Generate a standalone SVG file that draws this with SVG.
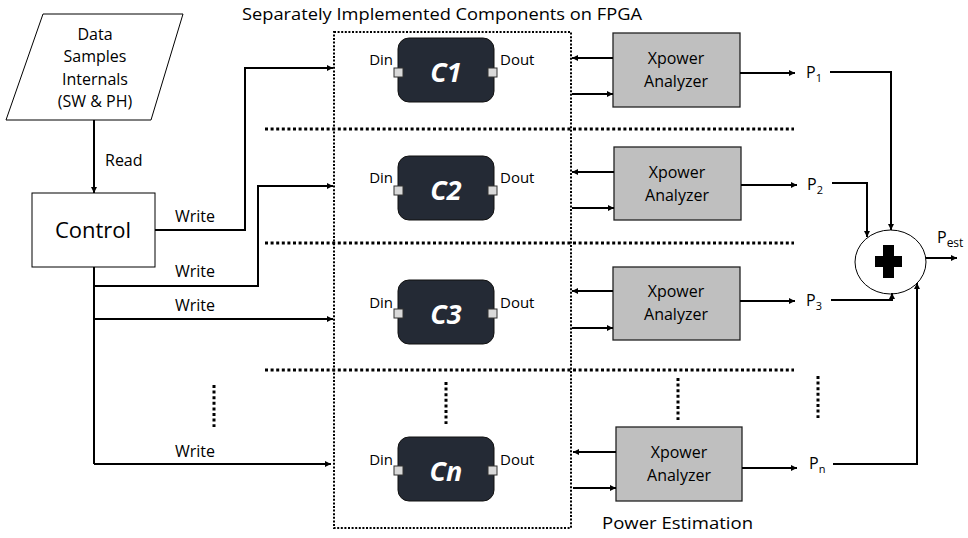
<svg xmlns="http://www.w3.org/2000/svg" width="968" height="538" viewBox="0 0 968 538">
<defs>
<marker id="ah" viewBox="0 0 10 10" refX="10" refY="5" markerWidth="6" markerHeight="6" markerUnits="userSpaceOnUse" orient="auto"><path d="M0 0 L10 5 L0 10 z" fill="#000"/></marker>
<style>
text{font-family:"Open Sans","Noto Sans","Liberation Sans",sans-serif;fill:#000}
.lbl{font-size:16px}
.mid{text-anchor:middle}
.c{fill:#242a35;stroke:#111;stroke-width:1}
.port{fill:#d9d9d9;stroke:#333;stroke-width:1}
.cl{font-size:27px;font-weight:bold;font-style:italic;fill:#fff;text-anchor:middle}
.d{font-size:15px}
.din{text-anchor:end}
.xa{fill:#bfbfbf;stroke:#222;stroke-width:1.3}
.ln{fill:none;stroke:#000;stroke-width:2}
.ar{fill:none;stroke:#000;stroke-width:2;marker-end:url(#ah)}
.sep{fill:none;stroke:#000;stroke-width:3;stroke-dasharray:3 2.6}
.box{fill:none;stroke:#000;stroke-width:2;stroke-dasharray:2 1.6}
</style>
</defs>
<rect width="968" height="538" fill="#fff"/>

<text x="242" y="20" textLength="400" lengthAdjust="spacingAndGlyphs" font-size="17">Separately Implemented Components on FPGA</text>
<text x="602" y="529" textLength="151" lengthAdjust="spacingAndGlyphs" font-size="17">Power Estimation</text>

<rect class="box" x="334" y="32" width="237" height="496"/>
<g id="separators">
<line class="sep" x1="265" y1="129" x2="794" y2="129"/>
<line class="sep" x1="265" y1="243" x2="794" y2="243"/>
<line class="sep" x1="265" y1="370" x2="794" y2="370"/>
<line class="sep" x1="214" y1="385" x2="214" y2="427"/>
<line class="sep" x1="446" y1="382" x2="446" y2="424"/>
<line class="sep" x1="678" y1="378" x2="678" y2="420"/>
<line class="sep" x1="818" y1="376" x2="818" y2="418"/>
</g>

<g id="data">
<polygon points="43,14 183,14 151,120 6,120" fill="#fff" stroke="#000" stroke-width="1"/>
<text class="lbl mid" x="95" y="40">Data</text>
<text class="lbl mid" x="95" y="62">Samples</text>
<text class="lbl mid" x="95" y="85">Internals</text>
<text class="lbl mid" x="95" y="107">(SW &amp; PH)</text>
</g>

<g id="control">
<rect x="32" y="193" width="123" height="74" fill="#fff" stroke="#000" stroke-width="1"/>
<text class="mid" x="93" y="238" font-size="22">Control</text>
</g>

<g id="c1">
<rect class="c" x="398" y="38" width="96" height="64" rx="11"/>
<rect class="port" x="394" y="68" width="9" height="9"/>
<rect class="port" x="488" y="68" width="9" height="9"/>
<text class="cl" x="446" y="82">C1</text>
<text class="d din" x="393" y="65">Din</text>
<text class="d" x="500" y="65">Dout</text>
</g>
<g id="c2">
<rect class="c" x="398" y="156" width="96" height="64" rx="11"/>
<rect class="port" x="394" y="186" width="9" height="9"/>
<rect class="port" x="488" y="186" width="9" height="9"/>
<text class="cl" x="446" y="200">C2</text>
<text class="d din" x="393" y="183">Din</text>
<text class="d" x="500" y="183">Dout</text>
</g>
<g id="c3">
<rect class="c" x="398" y="280" width="96" height="64" rx="11"/>
<rect class="port" x="394" y="309" width="9" height="9"/>
<rect class="port" x="488" y="309" width="9" height="9"/>
<text class="cl" x="446" y="324">C3</text>
<text class="d din" x="393" y="308">Din</text>
<text class="d" x="500" y="308">Dout</text>
</g>
<g id="cn">
<rect class="c" x="398" y="437" width="96" height="64" rx="11"/>
<rect class="port" x="394" y="466" width="9" height="9"/>
<rect class="port" x="488" y="466" width="9" height="9"/>
<text class="cl" x="446" y="481">Cn</text>
<text class="d din" x="393" y="465">Din</text>
<text class="d" x="500" y="465">Dout</text>
</g>

<g id="xa1">
<rect class="xa" x="613" y="33" width="127" height="74"/>
<text class="lbl mid" x="676" y="64">Xpower</text>
<text class="lbl mid" x="676" y="87">Analyzer</text>
</g>
<g id="xa2">
<rect class="xa" x="614" y="147" width="127" height="73"/>
<text class="lbl mid" x="677" y="178">Xpower</text>
<text class="lbl mid" x="677" y="201">Analyzer</text>
</g>
<g id="xa3">
<rect class="xa" x="613" y="267" width="127" height="73"/>
<text class="lbl mid" x="676" y="297">Xpower</text>
<text class="lbl mid" x="676" y="320">Analyzer</text>
</g>
<g id="xan">
<rect class="xa" x="616" y="427" width="126" height="74"/>
<text class="lbl mid" x="679" y="458">Xpower</text>
<text class="lbl mid" x="679" y="481">Analyzer</text>
</g>

<g id="p-labels">
<text class="lbl" x="806" y="78">P<tspan font-size="11" dy="4">1</tspan></text>
<text class="lbl" x="807" y="190">P<tspan font-size="11" dy="4">2</tspan></text>
<text class="lbl" x="806" y="306">P<tspan font-size="11" dy="4">3</tspan></text>
<text class="lbl" x="809" y="469">P<tspan font-size="11" dy="4">n</tspan></text>
<text class="lbl" x="937" y="243">P<tspan font-size="12" dy="4">est</tspan></text>
</g>

<g id="sum">
<ellipse cx="890.5" cy="262" rx="35.5" ry="32" fill="#fff" stroke="#000" stroke-width="1"/>
<path d="M883 245 H894 V256 H902 V267 H894 V278 H883 V267 H875 V256 H883 Z" fill="#000"/>
</g>

<g id="connectors">
<line class="ar" x1="94" y1="120" x2="94" y2="193"/>
<text class="lbl" x="105" y="166">Read</text>
<path class="ar" d="M155 230 H245 V68 H333"/>
<path class="ln" d="M94 267 V464"/>
<path class="ar" d="M94 286 H258 V186 H333"/>
<path class="ar" d="M94 319 H333"/>
<path class="ar" d="M94 464 H331"/>
<text class="lbl mid" x="195" y="222">Write</text>
<text class="lbl mid" x="195" y="277">Write</text>
<text class="lbl mid" x="195" y="311">Write</text>
<text class="lbl mid" x="195" y="457">Write</text>

<path class="ar" d="M613 58 H572"/>
<path class="ar" d="M572 94 H613"/>
<path class="ar" d="M614 172 H572"/>
<path class="ar" d="M572 208 H614"/>
<path class="ar" d="M613 291 H572"/>
<path class="ar" d="M572 328 H613"/>
<path class="ar" d="M616 452 H573"/>
<path class="ar" d="M573 488 H616"/>

<path class="ar" d="M740 73 H795"/>
<path class="ar" d="M741 185 H797"/>
<path class="ar" d="M740 301 H795"/>
<path class="ar" d="M742 468 H797"/>

<path class="ar" d="M830 72 H891 V230"/>
<path class="ar" d="M832 183 H867 V237"/>
<path class="ar" d="M831 300 H892 V293"/>
<path class="ar" d="M833 464 H917 V283"/>
<path class="ar" d="M926 258 H957"/>
</g>
</svg>
